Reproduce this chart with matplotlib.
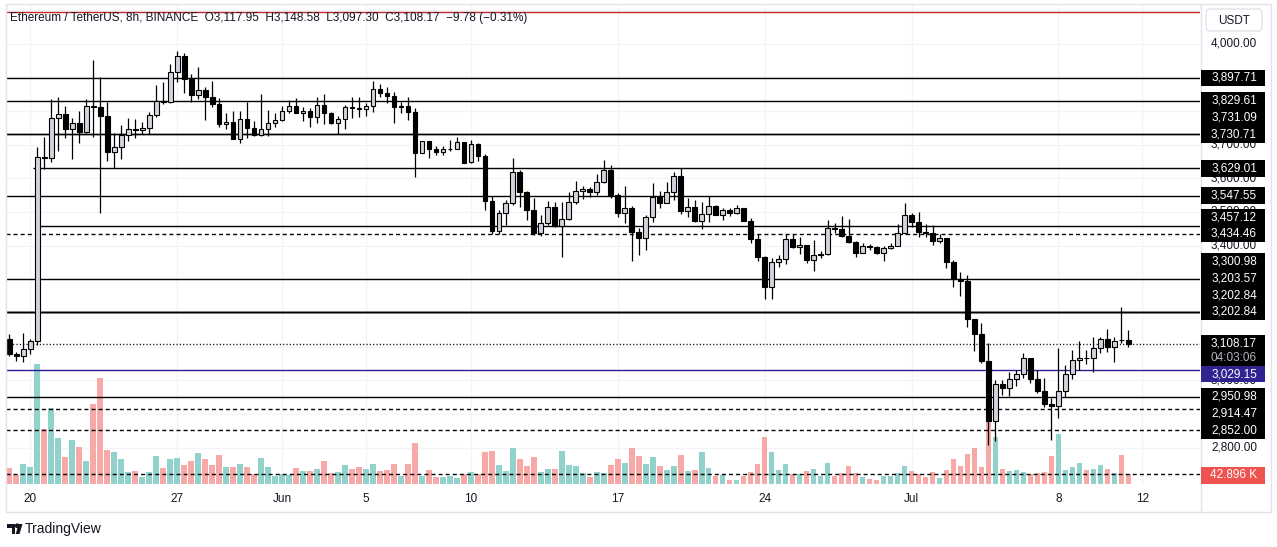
import matplotlib
matplotlib.use('Agg')
import matplotlib.pyplot as plt
from matplotlib.patches import Rectangle, FancyBboxPatch, Polygon
from matplotlib.transforms import blended_transform_factory
import numpy as np

plt.rcParams['font.family'] = ['Liberation Sans', 'DejaVu Sans']
plt.rcParams['lines.scale_dashes'] = False

# ---------------- data ----------------
opens = [3122, 3077, 3071, 3092, 3116, 3663, 3660, 3778, 3790, 3745,
         3763, 3736, 3814, 3812, 3784, 3679, 3693, 3728, 3746, 3744,
         3749, 3787, 3830, 3825, 3915, 3963, 3894, 3846, 3861, 3842,
         3820, 3760, 3767, 3717, 3775, 3748, 3727, 3746, 3764, 3773,
         3800, 3815, 3794, 3800, 3781, 3817, 3795, 3765, 3775, 3811,
         3809, 3807, 3814, 3864, 3852, 3843, 3812, 3814, 3797, 3676,
         3710, 3688, 3678, 3686, 3688, 3707, 3647, 3701, 3667, 3533,
         3444, 3496, 3527, 3618, 3558, 3506, 3438, 3468, 3515, 3458,
         3479, 3528, 3563, 3567, 3558, 3590, 3623, 3550, 3496, 3511,
         3441, 3421, 3484, 3543, 3527, 3558, 3607, 3504, 3514, 3474,
         3494, 3517, 3491, 3505, 3496, 3511, 3474, 3418, 3367, 3278,
         3350, 3359, 3418, 3395, 3402, 3357, 3371, 3375, 3451, 3449,
         3429, 3411, 3379, 3399, 3397, 3377, 3392, 3399, 3436, 3491,
         3471, 3441, 3437, 3413, 3421, 3352, 3300, 3295, 3181, 3136,
         3058, 2880, 2988, 2978, 3003, 3017, 3065, 3003, 2969, 2928,
         2924, 2968, 3017, 3060, 3067, 3066, 3095, 3122, 3099, 3118.6,
         3117.95]
highs = [3136, 3083, 3139, 3122, 3693, 3722, 3834, 3841, 3814, 3778,
         3800, 3834, 3951, 3900, 3827, 3734, 3758, 3778, 3775, 3767,
         3797, 3877, 3886, 3939, 3978, 3973, 3909, 3929, 3870, 3890,
         3838, 3793, 3800, 3800, 3827, 3770, 3850, 3803, 3793, 3815,
         3832, 3837, 3813, 3808, 3840, 3850, 3797, 3784, 3818, 3840,
         3840, 3824, 3889, 3880, 3870, 3855, 3827, 3840, 3808, 3711,
         3711, 3696, 3696, 3714, 3721, 3708, 3714, 3704, 3671, 3548,
         3506, 3535, 3659, 3624, 3561, 3540, 3491, 3532, 3528, 3528,
         3558, 3593, 3577, 3575, 3613, 3654, 3639, 3556, 3577, 3516,
         3451, 3491, 3585, 3563, 3588, 3617, 3630, 3540, 3535, 3530,
         3547, 3520, 3511, 3511, 3520, 3512, 3481, 3433, 3369, 3362,
         3372, 3434, 3433, 3425, 3403, 3416, 3384, 3476, 3466, 3488,
         3478, 3413, 3407, 3405, 3398, 3399, 3407, 3464, 3526, 3496,
         3499, 3463, 3461, 3434, 3422, 3357, 3320, 3312, 3182, 3169,
         3110, 3002, 3000, 3025, 3030, 3080, 3066, 3030, 3006, 2946,
         3096, 3045, 3090, 3115, 3090, 3127, 3129, 3152, 3129, 3218,
         3148.58]
lows = [3073, 3057, 3053, 3077, 3105, 3626, 3649, 3682, 3720, 3656,
        3704, 3735, 3723, 3497, 3652, 3630, 3656, 3712, 3720, 3732,
        3732, 3781, 3820, 3824, 3887, 3854, 3825, 3834, 3774, 3813,
        3753, 3746, 3716, 3704, 3718, 3725, 3726, 3725, 3753, 3771,
        3793, 3793, 3771, 3753, 3764, 3760, 3760, 3731, 3746, 3778,
        3781, 3784, 3797, 3841, 3823, 3763, 3795, 3773, 3603, 3675,
        3661, 3670, 3668, 3682, 3687, 3644, 3646, 3652, 3505, 3434,
        3434, 3461, 3520, 3515, 3476, 3431, 3428, 3461, 3456, 3365,
        3476, 3523, 3537, 3543, 3550, 3587, 3540, 3486, 3466, 3355,
        3372, 3387, 3469, 3511, 3525, 3535, 3494, 3486, 3469, 3449,
        3471, 3490, 3476, 3488, 3495, 3473, 3408, 3355, 3240, 3242,
        3337, 3345, 3394, 3375, 3347, 3325, 3362, 3371, 3438, 3426,
        3407, 3367, 3378, 3387, 3375, 3353, 3390, 3398, 3435, 3454,
        3424, 3426, 3403, 3408, 3333, 3276, 3251, 3157, 3088, 3052,
        2807, 2820, 2956, 2953, 2984, 3006, 2992, 2961, 2921, 2822,
        2887, 2949, 3003, 3030, 3048, 3025, 3080, 3085, 3055, 3110,
        3097.30]
closes = [3077, 3071, 3092, 3116, 3662, 3660, 3778, 3790, 3745, 3763,
          3736, 3814, 3812, 3784, 3679, 3693, 3728, 3746, 3744, 3749,
          3787, 3830, 3825, 3915, 3963, 3894, 3846, 3861, 3842, 3820,
          3760, 3767, 3717, 3775, 3748, 3727, 3746, 3764, 3773, 3800,
          3815, 3794, 3800, 3781, 3817, 3795, 3765, 3775, 3811, 3809,
          3807, 3814, 3864, 3852, 3843, 3812, 3814, 3797, 3676, 3710,
          3688, 3678, 3687, 3688, 3707, 3645, 3701, 3667, 3533, 3444,
          3496, 3527, 3618, 3558, 3506, 3438, 3468, 3515, 3458, 3479,
          3528, 3563, 3567, 3558, 3590, 3623, 3550, 3496, 3511, 3441,
          3421, 3484, 3543, 3527, 3558, 3607, 3504, 3514, 3474, 3494,
          3517, 3491, 3505, 3496, 3511, 3474, 3418, 3367, 3278, 3350,
          3359, 3418, 3395, 3402, 3357, 3371, 3375, 3451, 3449, 3429,
          3411, 3379, 3399, 3397, 3377, 3392, 3399, 3436, 3491, 3471,
          3441, 3437, 3413, 3421, 3352, 3300, 3295, 3181, 3136, 3058,
          2880, 2988, 2978, 3003, 3017, 3065, 3003, 2969, 2928, 2924,
          2968, 3017, 3060, 3067, 3066, 3095, 3122, 3099, 3116, 3117.95,
          3108.17]
volumes_k = [68.6, 38.6, 85.8, 72.9, 514.8, 236, 326, 197, 116, 189,
             159, 98.7, 343, 455, 146, 137, 109, 51.5, 55.8, 30,
             51.5, 120, 68.6, 107, 111.5, 81.5, 98.7, 133, 107, 81.5,
             124, 72.9, 72.9, 85.8, 72.9, 42.9, 111.5, 72.9, 34.3, 42.9,
             38.6, 68.6, 55.8, 55.8, 64.4, 98.7, 47.2, 51.5, 81.5, 64.4,
             72.9, 64.4, 85.8, 55.8, 60, 85.8, 34.3, 85.8, 176, 34.3,
             60, 30, 30, 34.3, 25.7, 42.9, 51.5, 42.9, 137, 143,
             81.5, 55.8, 154, 107, 77.2, 116, 51.5, 64.4, 64.4, 141.6,
             81.5, 77.2, 47.2, 30, 51.5, 47.2, 81.5, 107, 90, 154,
             120, 87, 117, 78.7, 61.5, 78.7, 126, 57.2, 61.5, 139,
             70, 35.8, 40, 18.6, 18.6, 35.8, 53, 87, 203, 139,
             61.5, 87, 44.3, 44.3, 57.2, 65.8, 35.8, 91.5, 35.8, 48.6,
             78.7, 48.6, 31.5, 22.9, 18.6, 35.8, 35.8, 48.6, 78.7, 57.2,
             44.3, 31.5, 53, 27.2, 61.5, 108.7, 78.7, 130, 156, 74.4,
             429, 203, 65.8, 57.2, 61.5, 53, 44.3, 48.6, 53, 121.6,
             216, 61.5, 74.4, 91.5, 61.5, 65.8, 83, 65.8, 48.6, 126,
             42.896]

tick_idx = [3, 24, 39, 51, 66, 87, 108, 129, 150, 162]
tick_labels = ['20', '27', 'Jun', '5', '10', '17', '24', 'Jul', '8', '12']

level_prices = [3897.71, 3829.61, 3731.09, 3730.71, 3629.01, 3547.55, 3457.12,
                3434.46, 3300.98, 3203.57, 3202.84, 3202.84, 3029.15, 2950.98,
                2914.47, 2852.00]
level_dashed = [False, False, False, False, False, False, False,
                True, False, False, False, False, False, False, True, True]
level_start_bar = [None, None, None, None, 3, None, 4,
                   None, None, None, None, None, None, None, None, None]
highlight_level = 3029.15
red_line_price = 4093.7
grid_prices = list(range(2800, 4101, 100))
axis_label_prices = list(range(2800, 4001, 100))
countdown = '04:03:06'
title_left = 'Ethereum / TetherUS, 8h, BINANCE'

# ---------------- layout ----------------
W, H, DPI = 1277, 547, 100
PL, PR, PT, PB = 6, 1200, 4, 485          # price pane in pixels
X0, DX = 9.3, 6.994                        # first bar pixel / bar spacing
XMIN, XMAX = (PL - X0) / DX, (PR - X0) / DX
YMIN, YMAX = 2688.6, 4117.5
VOL_PER_PX = 4.2896

o = np.array(opens, float); h = np.array(highs, float)
l = np.array(lows, float); c = np.array(closes, float)
v = np.array(volumes_k, float)
x = np.arange(len(o))
up = c >= o

fig = plt.figure(figsize=(W / DPI, H / DPI), dpi=DPI)
fig.patch.set_facecolor('white')
rect = [PL / W, 1 - PB / H, (PR - PL) / W, (PB - PT) / H]

ax = fig.add_axes(rect, zorder=2)
ax.patch.set_visible(False)
ax.set_xlim(XMIN, XMAX)
ax.set_ylim(YMIN, YMAX)

axv = fig.add_axes(rect, zorder=1)
axv.set_xlim(XMIN, XMAX)
axv.set_ylim(-VOL_PER_PX, VOL_PER_PX * (PB - PT - 1))
axv.set_facecolor('white')
for s in axv.spines.values():
    s.set_visible(False)
axv.set_xticks([]); axv.set_yticks([])
grid_tr = blended_transform_factory(axv.transAxes, ax.transData)
for gp in grid_prices:
    axv.plot([0, 1], [gp, gp], transform=grid_tr, color='#f0f3fa', lw=0.9, zorder=0)
for t in tick_idx:
    axv.axvline(t, color='#f0f3fa', lw=0.9, zorder=0)
axv.bar(x, v, width=0.8, color=np.where(up, '#92d2cc', '#f7a9a7'), linewidth=0, zorder=1)
axv.axhline(v[-1], color='black', lw=1.0, ls=(0, (2.9, 2.2)), zorder=2)

# level lines
for p, dsh, sb in zip(level_prices, level_dashed, level_start_bar):
    col = '#311b92' if p == highlight_level else 'black'
    xs = XMIN if sb is None else sb + 0.35
    ax.hlines(p, xs, XMAX, colors=col, lw=1.0,
              linestyles=(0, (2.9, 2.2)) if dsh else 'solid', zorder=1.5)
ax.axhline(red_line_price, color='#c62828', lw=1.0, zorder=1.5)
ax.axhline(c[-1], color='black', lw=1.0, ls=(0, (0.8, 1.6)), zorder=1.6)

# candles
ax.vlines(x, l, h, color='black', lw=0.9, zorder=2)
ax.bar(x, np.maximum(np.abs(c - o), 0.6), bottom=np.minimum(o, c), width=0.68,
       color=np.where(up, '#d1d4dc', '#000000'), edgecolor='black', linewidth=0.8, zorder=3)

for s in ax.spines.values():
    s.set_visible(False)
ax.set_yticks([])
ax.set_xticks(tick_idx)
ax.set_xticklabels(tick_labels)
ax.tick_params(axis='x', length=0, pad=6, labelsize=8.5, colors='#131722')

# ---------------- overlay (pixel space) ----------------
ov = fig.add_axes([0, 0, 1, 1], zorder=5)
ov.set_xlim(0, W); ov.set_ylim(H, 0)
ov.axis('off'); ov.patch.set_visible(False)
inv = ov.transData.inverted()

def py(price):
    return inv.transform(ax.transData.transform((0, price)))[1]

FS = 8.5
LH = 16.8
BX0, BW = 1201, 64
TXC = 1234

# label boxes with collision handling (current price pinned)
pin = py(c[-1])
pin_top, pin_bot = pin - LH / 2, pin + LH / 2 + 13.5
items = [(py(p), p) for p in level_prices]
above = sorted([it for it in items if it[0] <= pin], key=lambda t: -t[0])
below = sorted([it for it in items if it[0] > pin], key=lambda t: t[0])
placed = []
lim = pin_top
for yy, p in above:
    yc = min(yy, lim - LH / 2); lim = yc - LH / 2; placed.append((yc, p))
lim = pin_bot
for yy, p in below:
    yc = max(yy, lim + LH / 2); lim = yc + LH / 2; placed.append((yc, p))

# merge touching boxes into blocks
raw = sorted([(yc - LH / 2, yc + LH / 2) for yc, _ in placed] + [(pin_top, pin_bot)])
blocks = []
for b0, b1 in raw:
    if blocks and b0 <= blocks[-1][1] + 0.5:
        blocks[-1][1] = max(blocks[-1][1], b1)
    else:
        blocks.append([b0, b1])

# gray axis price labels (skip the ones fully hidden behind a label block)
for gp in axis_label_prices:
    yy = py(gp)
    hidden = any(b0 + 5 <= yy <= b1 - 5 for b0, b1 in blocks)
    if not hidden:
        ov.text(TXC, yy, f'{gp:,.2f}', ha='center', va='center', fontsize=FS,
                color='#131722', zorder=1)

for yc, p in placed:
    bg = '#2e2391' if p == highlight_level else 'black'
    ov.add_patch(Rectangle((BX0, yc - LH / 2), BW, LH, facecolor=bg, edgecolor='none', zorder=3))
    ov.text(TXC, yc, f'{p:,.2f}', ha='center', va='center', fontsize=FS,
            color='white', zorder=4)
# current price label
ov.add_patch(Rectangle((BX0, pin_top), BW, pin_bot - pin_top, facecolor='black',
                       edgecolor='none', zorder=3))
ov.text(TXC, pin, f'{c[-1]:,.2f}', ha='center', va='center', fontsize=FS, color='white', zorder=4)
ov.text(TXC, pin + 14, countdown, ha='center', va='center', fontsize=FS, color='#b2b5be', zorder=4)
# volume label
vy = inv.transform(axv.transData.transform((0, v[-1])))[1]
ov.add_patch(Rectangle((BX0, vy - LH / 2 + 1.5), BW, LH, facecolor='#ef5350', edgecolor='none', zorder=3))
ov.text(TXC, vy + 1.5, f'{v[-1]:.3f} K', ha='center', va='center', fontsize=FS, color='white', zorder=4)

# USDT box
ov.add_patch(FancyBboxPatch((1206, 9), 56, 22, boxstyle='round,pad=0,rounding_size=4',
                            facecolor='white', edgecolor='#e0e3eb', lw=1, zorder=6))
ov.text(1234, 20.5, 'USDT', ha='center', va='center', fontsize=FS, color='#131722', zorder=7)

# title
chg = c[-1] - o[-1]
title = (f'{title_left}  O{o[-1]:,.2f}  H{h[-1]:,.2f}  L{l[-1]:,.2f}  C{c[-1]:,.2f}  '
         f'\u2212{abs(chg):.2f} (\u2212{abs(chg) / o[-1] * 100:.2f}%)')
ov.text(10, 17.5, title, ha='left', va='center', fontsize=8.5, color='#131722', zorder=6)

# borders
ov.add_patch(Rectangle((5.5, 3.5), 1265, 508, fill=False, edgecolor='#e0e3eb', lw=1, zorder=2))
ov.plot([1200.5, 1200.5], [3.5, 511.5], color='#e0e3eb', lw=1, zorder=2)

# TradingView logo
ov.add_patch(Polygon([(7, 524), (15, 524), (15, 534), (11.5, 534), (11.5, 527.5), (7, 527.5)],
                     closed=True, facecolor='#131722', edgecolor='none'))
ov.add_patch(Polygon([(18.5, 524), (22.5, 524), (19.5, 534), (15.8, 534)],
                     closed=True, facecolor='#131722', edgecolor='none'))
ov.add_patch(plt.Circle((17.2, 525.8), 1.7, color='#131722'))
ov.text(25, 529.5, 'TradingView', ha='left', va='center', fontsize=10, color='#131722')

fig.savefig('out.png', dpi=DPI, facecolor='white')
